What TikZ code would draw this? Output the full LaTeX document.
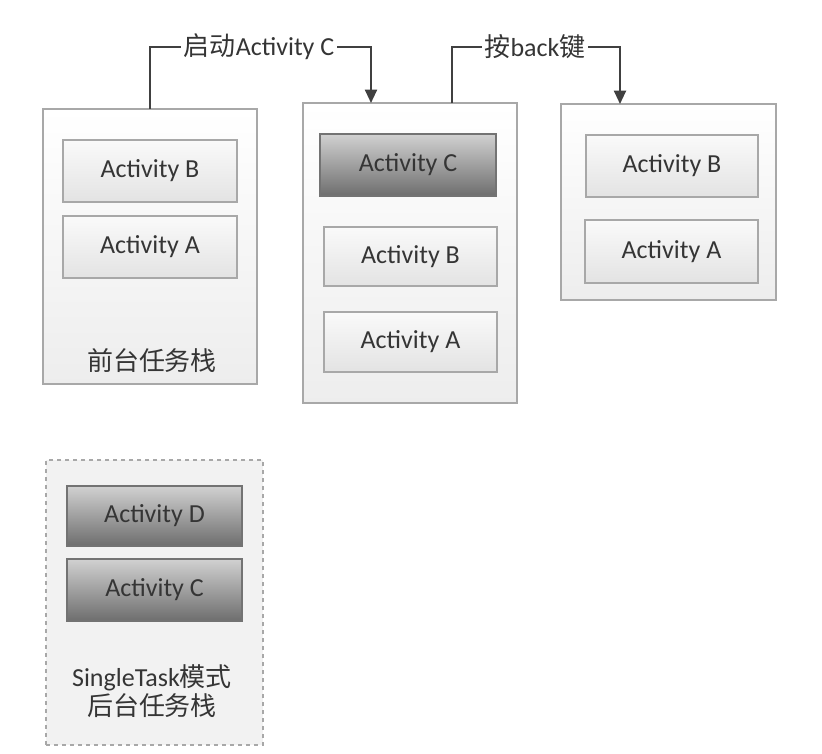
\documentclass[tikz,border=0pt]{standalone}
\usepackage{fontspec}
\setmainfont{Carlito}
\newfontfamily\cjk{Noto Sans CJK SC}
\usetikzlibrary{arrows.meta}
\definecolor{txt}{HTML}{353535}
\definecolor{edge}{HTML}{A8A8A8}
\definecolor{wire}{HTML}{404040}
\tikzset{
  stackbox/.style={draw=edge, line width=0.9pt, top color=white, bottom color=black!7, inner sep=0pt},
  lightact/.style={draw=edge, line width=0.9pt, top color=black!2, bottom color=black!11, text=txt, inner sep=0pt,
     font=\fontsize{19.5}{23}\selectfont},
  darkact/.style={draw=black!55, line width=0.9pt, top color=black!18, bottom color=black!57, text=txt, inner sep=0pt,
     font=\fontsize{19.5}{23}\selectfont},
  stacklabel/.style={text=txt, font=\fontsize{19.5}{23}\selectfont, align=center},
  wireline/.style={draw=wire, line width=1.5pt},
  wirearrow/.style={wireline, -{Triangle[length=10pt,width=9pt]}},
  wirelabel/.style={fill=white, text=txt, inner sep=2pt, font=\fontsize{19.5}{23}\selectfont}
}
\begin{document}
\begin{tikzpicture}[x=0.75pt,y=-0.75pt]
\useasboundingbox (0,0) rectangle (822,754);
% stacks
\node[stackbox, minimum width=160.5pt, minimum height=206.25pt] (s1) at (150,246.5) {};
\node[stackbox, minimum width=160.5pt, minimum height=225pt] (s2) at (410,253) {};
\node[stackbox, minimum width=161.25pt, minimum height=147pt] (s3) at (668.5,202) {};
\node[draw=edge, dashed, line width=0.8pt, fill=black!5, minimum width=162.75pt, minimum height=213.75pt, inner sep=0pt] (s4) at (154.5,602.5) {};
% stack 1
\node[lightact, minimum width=130.5pt, minimum height=46.5pt] (s1b) at (150,171) {Activity B};
\node[lightact, minimum width=130.5pt, minimum height=46.5pt] (s1a) at (150,247) {Activity A};
\node[stacklabel] (s1l) at (152,361) {\cjk 前台任务栈};
% stack 2
\node[darkact, minimum width=132pt, minimum height=46.5pt] (s2c) at (408,165) {Activity C};
\node[lightact, minimum width=129.75pt, minimum height=44.25pt] (s2b) at (410.5,256.5) {Activity B};
\node[lightact, minimum width=129.75pt, minimum height=45pt] (s2a) at (410.5,342) {Activity A};
% stack 3
\node[lightact, minimum width=129pt, minimum height=46.5pt] (s3b) at (672,166) {Activity B};
\node[lightact, minimum width=129.75pt, minimum height=47.25pt] (s3a) at (671.5,251.5) {Activity A};
% stack 4
\node[darkact, minimum width=131.25pt, minimum height=45pt] (s4d) at (154.5,516) {Activity D};
\node[darkact, minimum width=131.25pt, minimum height=46.5pt] (s4c) at (154.5,590) {Activity C};
\node[stacklabel] (s4l) at (152,691) {SingleTask{\cjk 模式}\\[-1pt]{\cjk 后台任务栈}};
% connectors
\coordinate (a1s) at (150,109);
\coordinate (a1e) at (371,103);
\coordinate (a2s) at (452,103);
\coordinate (a2e) at (620,104);
\draw[wirearrow] (a1s) |- (260,47) -| (a1e);
\node[wirelabel] (l1) at (259,47) {{\cjk 启动}Activity C};
\draw[wirearrow] (a2s) |- (530,47) -| (a2e);
\node[wirelabel] (l2) at (535,47) {{\cjk 按}back{\cjk 键}};
\end{tikzpicture}
\end{document}
